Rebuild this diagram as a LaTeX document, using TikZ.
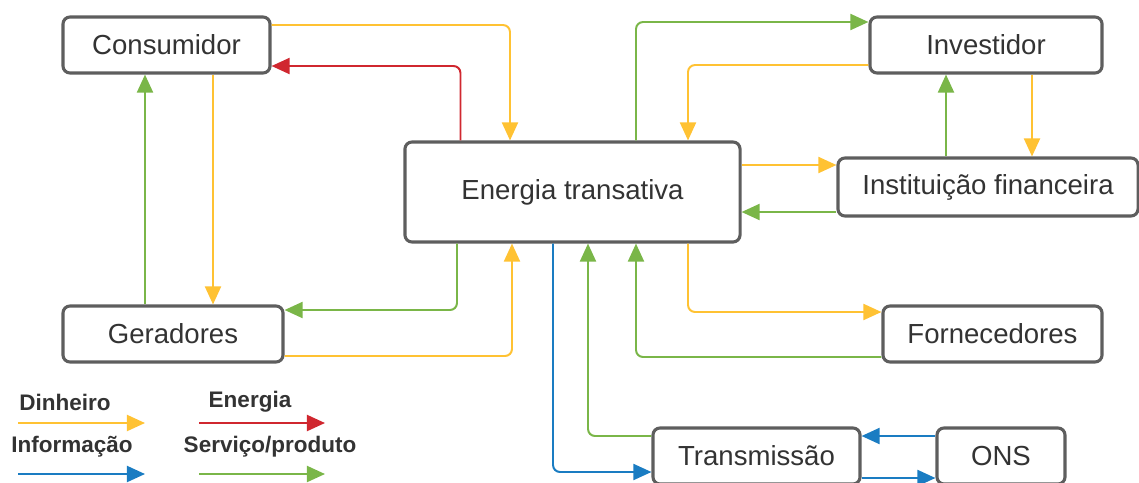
\documentclass[tikz,border=0pt]{standalone}
\usepackage{fontspec}
\setmainfont{Liberation Sans}
\usepackage{xcolor}
\usetikzlibrary{arrows.meta,positioning,calc}

\definecolor{cmoney}{HTML}{FFC233}
\definecolor{cpower}{HTML}{D0272F}
\definecolor{cinfo}{HTML}{1A7CC2}
\definecolor{cserv}{HTML}{7AB648}
\definecolor{cbox}{HTML}{5E5E5E}
\definecolor{ctext}{HTML}{333333}

\begin{document}
\begin{tikzpicture}[x=0.025cm, y=-0.025cm,
    box/.style={rectangle, draw=cbox, line width=2.2pt, fill=white, rounded corners=5pt,
        text=ctext, font=\fontsize{19.6}{22}\selectfont, minimum height=1.4cm},
    flow/.style={line width=1.4pt, rounded corners=5pt, -{Triangle[length=0.45cm, width=0.4cm]}},
    money/.style={flow, draw=cmoney},
    power/.style={flow, draw=cpower},
    info/.style={flow, draw=cinfo},
    serv/.style={flow, draw=cserv},
    legend/.style={text=ctext, font=\fontsize{16}{18}\bfseries\selectfont}]

    \useasboundingbox (0,0) rectangle (1139,482);

    % Nodes
    \node[box, minimum width=5.175cm] (cons) at (166.5,45) {Consumidor};
    \node[box, minimum width=5.8cm] (inv) at (986,45) {Investidor};
    \node[box, minimum width=8.375cm, minimum height=2.5cm] (energ) at (572.5,192) {Energia transativa};
    \node[box, minimum width=7.5cm, minimum height=1.45cm] (inst) at (988,187) {Instituição financeira};
    \node[box, minimum width=5.5cm] (gen) at (173,334) {Geradores};
    \node[box, minimum width=5.475cm] (forn) at (992.5,334) {Fornecedores};
    \node[box, minimum width=5.175cm] (trans) at (756.5,456) {Transmissão};
    \node[box, minimum width=3.2cm] (ons) at (1001,456) {ONS};

    % Consumidor / Geradores
    \draw[money] ($(cons.east)+(0,-20)$) -| ($(energ.north)+(-62.5,0)$);
    \draw[power] ($(energ.north)+(-112,0)$) |- ($(cons.east)+(0,21)$);
    \draw[money] ($(cons.south)+(46.5,0)$) coordinate (c1) -- (c1 |- gen.north);
    \draw[serv] ($(gen.north)+(-28,0)$) coordinate (g1) -- (g1 |- cons.south);
    \draw[serv] ($(energ.south)+(-115.5,0)$) |- ($(gen.east)+(0,-24)$);
    \draw[money] ($(gen.east)+(0,22)$) -| ($(energ.south)+(-60.5,0)$);

    % Investidor / Instituicao
    \draw[serv] ($(energ.north)+(63.5,0)$) |- ($(inv.west)+(0,-23)$);
    \draw[money] ($(inv.west)+(0,20)$) -| ($(energ.north)+(115.5,0)$);
    \draw[money] ($(energ.east)+(0,-27)$) coordinate (e1) -- (e1 -| inst.west);
    \draw[serv] ($(inst.west)+(0,25)$) coordinate (i1) -- (i1 -| energ.east);
    \draw[serv] ($(inst.north)+(-42,0)$) coordinate (i2) -- (i2 |- inv.south);
    \draw[money] ($(inv.south)+(46,0)$) coordinate (v1) -- (v1 |- inst.north);

    % Fornecedores / Transmissao / ONS
    \draw[money] ($(energ.south)+(115.5,0)$) |- ($(forn.west)+(0,-22)$);
    \draw[serv] ($(forn.west)+(0,23)$) -| ($(energ.south)+(63.5,0)$);
    \draw[serv] ($(trans.west)+(0,-20)$) -| ($(energ.south)+(15.5,0)$);
    \draw[info] ($(energ.south)+(-19.5,0)$) |- ($(trans.west)+(0,16)$);
    \draw[info] ($(ons.west)+(0,-20)$) coordinate (o1) -- (o1 -| trans.east);
    \draw[info] ($(trans.east)+(0,22)$) coordinate (t1) -- (t1 -| ons.west);

    % Legend
    \node[legend] (ldin) at (65,402) {Dinheiro};
    \node[legend] (lene) at (250,402) {Energia};
    \node[legend] (linf) at (72,447) {Informação};
    \node[legend] (lser) at (270,447) {Serviço/produto};
    \coordinate (a1) at (18,423);
    \coordinate (b1) at (145,423);
    \coordinate (a2) at (199,423);
    \coordinate (b2) at (325,423);
    \coordinate (a3) at (18,474);
    \coordinate (b3) at (145,474);
    \coordinate (a4) at (199,474);
    \coordinate (b4) at (325,474);
    \draw[money] (a1) -- (b1);
    \draw[power] (a2) -- (b2);
    \draw[info] (a3) -- (b3);
    \draw[serv] (a4) -- (b4);

\end{tikzpicture}
\end{document}
